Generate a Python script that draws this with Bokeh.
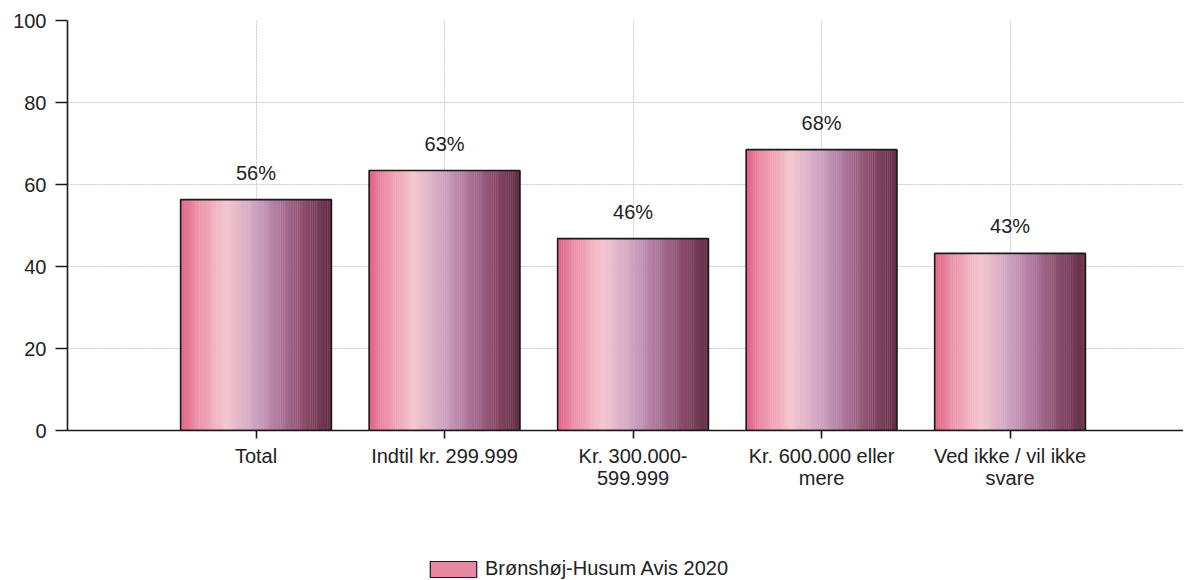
from bokeh.plotting import figure
from bokeh.layouts import column
from bokeh.models import (Range1d, FixedTicker, ColumnDataSource, Legend, LegendItem)
from bokeh.core.properties import value
from bokeh.embed import file_html
from bokeh.resources import INLINE

# ---- data ----
categories = ["Total", "Indtil kr. 299.999", "Kr. 300.000-\n599.999",
              "Kr. 600.000 eller\nmere", "Ved ikke / vil ikke\nsvare"]
values = [56.3, 63.4, 46.8, 68.5, 43.2]
value_labels = ["56%", "63%", "46%", "68%", "43%"]
series_name = "Brønshøj-Husum Avis 2020"
y_ticks = [0, 20, 40, 60, 80, 100]

# ---- style ----
FONT = "Liberation Sans"
FS = "20px"
BAR_W = 0.8
N_STRIPES = 80
SWATCH = "#ea88a2"
stops = [(0.00, (0xe0, 0x5f, 0x82)),
         (0.10, (0xea, 0x8e, 0xa6)),
         (0.30, (0xf4, 0xc6, 0xd0)),
         (0.50, (0xcd, 0xa2, 0xc0)),
         (0.65, (0xae, 0x78, 0x9c)),
         (0.82, (0x8c, 0x4e, 0x6c)),
         (1.00, (0x62, 0x2c, 0x44))]

def grad(t):
    for (t0, c0), (t1, c1) in zip(stops[:-1], stops[1:]):
        if t0 <= t <= t1:
            f = (t - t0) / (t1 - t0)
            return "#%02x%02x%02x" % tuple(int(round(a + (b - a) * f)) for a, b in zip(c0, c1))
    return "#%02x%02x%02x" % stops[-1][1]

xs = list(range(1, len(categories) + 1))

p = figure(width=1183, height=496, output_backend="svg", toolbar_location=None,
           x_range=Range1d(0, 5.92), y_range=Range1d(0, 100),
           min_border_left=67, min_border_right=0, min_border_top=20,
           min_border_bottom=66, outline_line_color=None,
           background_fill_color="white", border_fill_color="white")

src = ColumnDataSource(dict(x=xs, top=values, lab=value_labels))

# gradient stripes for each bar
sx, stop_, scol = [], [], []
sw = BAR_W / N_STRIPES
for xc, v in zip(xs, values):
    for i in range(N_STRIPES):
        t = (i + 0.5) / N_STRIPES
        sx.append(xc - BAR_W / 2 + (i + 0.5) * sw)
        stop_.append(v)
        scol.append(grad(t))
p.vbar(x=sx, top=stop_, bottom=0, width=sw * 1.2, fill_color=scol, line_color=None)

# outlines
p.vbar(x="x", top="top", bottom=0, width=BAR_W, source=src,
       fill_color=None, line_color="#1a1a1a", line_width=1.6)

# value labels
p.text(x="x", y="top", text="lab", source=src, text_align="center",
       text_baseline="bottom", y_offset=-16, text_font=value(FONT),
       text_font_size=FS, text_color="#222222")

# axes
p.xaxis.ticker = FixedTicker(ticks=xs)
p.xaxis.major_label_overrides = {x: c for x, c in zip(xs, categories)}
p.xaxis.major_label_text_font = FONT
p.xaxis.major_label_text_font_size = FS
p.xaxis.major_label_text_color = "#222222"
p.xaxis.major_label_text_line_height = 1.0
p.xaxis.major_label_standoff = 6
p.xaxis.major_tick_out = 8
p.xaxis.major_tick_in = 0
p.xaxis.minor_tick_line_color = None
p.xaxis.axis_line_color = "#1a1a1a"
p.xaxis.axis_line_width = 1.6
p.xaxis.major_tick_line_color = "#1a1a1a"
p.xaxis.major_tick_line_width = 1.6

p.yaxis.ticker = FixedTicker(ticks=y_ticks)
p.yaxis.major_label_text_font = FONT
p.yaxis.major_label_text_font_size = FS
p.yaxis.major_label_text_color = "#222222"
p.yaxis.major_label_standoff = 9
p.yaxis.major_tick_out = 12
p.yaxis.major_tick_in = 0
p.yaxis.minor_tick_line_color = None
p.yaxis.axis_line_color = "#1a1a1a"
p.yaxis.axis_line_width = 1.6
p.yaxis.major_tick_line_color = "#1a1a1a"
p.yaxis.major_tick_line_width = 1.6

p.xgrid.ticker = FixedTicker(ticks=xs)
p.xgrid.grid_line_color = "#c8cad0"
p.xgrid.grid_line_dash = "2 1"
p.ygrid.grid_line_color = "#c8cad0"
p.ygrid.grid_line_dash = "2 1"

# ---- legend strip below the chart ----
lg = figure(width=1183, height=84, output_backend="svg", toolbar_location=None,
            x_range=Range1d(0, 5.92), y_range=Range1d(200, 300),
            min_border=0, outline_line_color=None, x_axis_type=None, y_axis_type=None,
            background_fill_color="white", border_fill_color="white")
lg.grid.visible = False
swatch = lg.vbar(x="x", top="top", bottom=0, width=BAR_W, source=src,
                 fill_color=SWATCH, line_color="#1a1a1a", line_width=1.2)
legend = Legend(items=[LegendItem(label=series_name, renderers=[swatch], index=0)],
                location=(357, 0), orientation="horizontal",
                glyph_width=58, glyph_height=20, label_standoff=3,
                padding=0, margin=0, spacing=0,
                border_line_color=None, background_fill_alpha=0,
                label_text_font=FONT, label_text_font_size=FS,
                label_text_color="#222222")
lg.add_layout(legend)

layout = column(p, lg, spacing=0)
open("out.html", "w").write(file_html(layout, INLINE))
